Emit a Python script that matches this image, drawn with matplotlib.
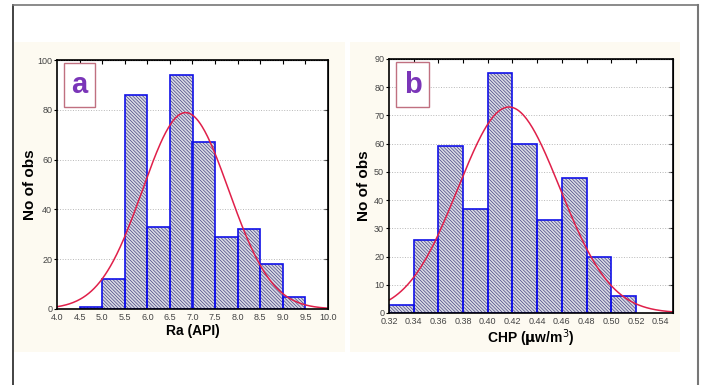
import numpy as np
import matplotlib
matplotlib.use("Agg")
from matplotlib import pyplot as plt
from matplotlib.patches import Rectangle
from matplotlib.lines import Line2D

# panel a: Ra (API)
ra_edges = [4.5, 5.0, 5.5, 6.0, 6.5, 7.0, 7.5, 8.0, 8.5, 9.0, 9.5]
ra_counts = [1, 12, 86, 33, 94, 67, 29, 32, 18, 5]
ra_ticks = [4.0, 4.5, 5.0, 5.5, 6.0, 6.5, 7.0, 7.5, 8.0, 8.5, 9.0, 9.5, 10.0]

# panel b: CHP
chp_edges = [0.32, 0.34, 0.36, 0.38, 0.40, 0.42, 0.44, 0.46, 0.48, 0.50, 0.52]
chp_counts = [3, 26, 59, 37, 85, 60, 33, 48, 20, 6]
chp_ticks = [0.32, 0.34, 0.36, 0.38, 0.40, 0.42, 0.44, 0.46, 0.48, 0.50, 0.52, 0.54]

plt.rcParams['font.family'] = ['Liberation Sans', 'DejaVu Sans']
plt.rcParams['hatch.linewidth'] = 0.45

BLUE = '#1010e8'
NAVY = '#3a3a78'
RED = '#e0204a'
PURPLE = '#7a35b8'


def normal_fit(edges, counts, xmin, xmax):
    # normal curve fitted to the binned data, scaled to counts
    edges = np.array(edges)
    counts = np.array(counts)
    mids = (edges[:-1] + edges[1:]) / 2
    n = counts.sum()
    mu = (mids * counts).sum() / n
    sd = np.sqrt(((mids - mu) ** 2 * counts).sum() / n)
    bw = edges[1] - edges[0]
    xs = np.linspace(xmin, xmax, 300)
    ys = n * bw / (sd * np.sqrt(2 * np.pi)) * np.exp(-0.5 * ((xs - mu) / sd) ** 2)
    return xs, ys


def draw_panel(ax, edges, counts, ticks, xlim, ylim, yticks, xlabel, letter, fmt, ylab_x):
    bw = edges[1] - edges[0]
    left = edges[:-1]
    ax.bar(left, counts, width=bw, align='edge', color='#d8d8e4',
           edgecolor=NAVY, hatch='\\' * 10, linewidth=0, zorder=2)
    ax.bar(left, counts, width=bw, align='edge', fill=False,
           edgecolor=BLUE, linewidth=1.2, zorder=3)
    xs, ys = normal_fit(edges, counts, xlim[0], xlim[1])
    ax.plot(xs, ys, color=RED, lw=1.1, zorder=4)

    ax.set_xlim(*xlim)
    ax.set_ylim(*ylim)
    ax.set_xticks(ticks)
    ax.set_xticklabels([fmt.format(t) for t in ticks])
    ax.set_yticks(yticks)
    ax.yaxis.grid(True, linestyle=':', color='#b8b8b8', lw=0.7, zorder=0)
    ax.set_axisbelow(True)
    ax.tick_params(axis='x', length=0, labelsize=6.5, labelcolor='#444444', pad=3)
    ax.tick_params(axis='y', length=2.5, direction='out', labelsize=6.5,
                   labelcolor='#444444', pad=1)
    for s in ax.spines.values():
        s.set_linewidth(1.2)
        s.set_zorder(5)
    top = ax.secondary_xaxis('top')
    top.set_xticks(ticks[1:-1])
    top.tick_params(direction='in', length=3, labeltop=False)
    right = ax.secondary_yaxis('right')
    right.set_yticks(yticks[1:-1])
    right.tick_params(direction='in', length=3, labelright=False)

    ax.set_ylabel('No of obs', fontsize=11, fontweight='bold')
    ax.yaxis.set_label_coords(ylab_x, 0.5)
    ax.set_xlabel(xlabel, fontsize=10, fontweight='bold', labelpad=1)

    ax.add_patch(Rectangle((0.024, 0.811), 0.118, 0.176, transform=ax.transAxes,
                           facecolor='white', edgecolor='#c07080', lw=1, zorder=6))
    ax.text(0.083, 0.899, letter, transform=ax.transAxes, ha='center', va='center',
            fontsize=21, fontweight='bold', color=PURPLE, zorder=7)


fig = plt.figure(figsize=(7.03, 3.85), dpi=100)
fig.patch.set_facecolor('white')

# light cream panels behind the two charts
for x0, x1 in [(14, 345), (350, 680)]:
    fig.patches.append(Rectangle((x0 / 703, (385 - 352) / 385), (x1 - x0) / 703,
                                 (352 - 42) / 385, transform=fig.transFigure,
                                 facecolor='#fdfaf1', edgecolor='none', zorder=-1))

# outer frame
fig.lines.append(Line2D([13 / 703, 13 / 703], [0, 1 - 5 / 385], transform=fig.transFigure,
                        color='#222222', lw=1.2))
fig.lines.append(Line2D([13 / 703, 698 / 703], [1 - 5 / 385, 1 - 5 / 385],
                        transform=fig.transFigure, color='#777777', lw=1.2))
fig.lines.append(Line2D([698 / 703, 698 / 703], [0, 1 - 5 / 385], transform=fig.transFigure,
                        color='#777777', lw=1.5))

ax_a = fig.add_axes([57 / 703, (385 - 309) / 385, 271 / 703, 249 / 385])
ax_b = fig.add_axes([389 / 703, (385 - 313) / 385, 284 / 703, 254 / 385])

draw_panel(ax_a, ra_edges, ra_counts, ra_ticks, (4.0, 10.0), (0, 100),
           [0, 20, 40, 60, 80, 100], 'Ra (API)', 'a', '{:.1f}', -0.072)
draw_panel(ax_b, chp_edges, chp_counts, chp_ticks, (0.32, 0.55), (0, 90),
           list(range(0, 91, 10)), 'CHP ($\\mathbf{\\mu}$w/m$^3$)', 'b', '{:.2f}', -0.065)

fig.savefig('out.png', dpi=100)
